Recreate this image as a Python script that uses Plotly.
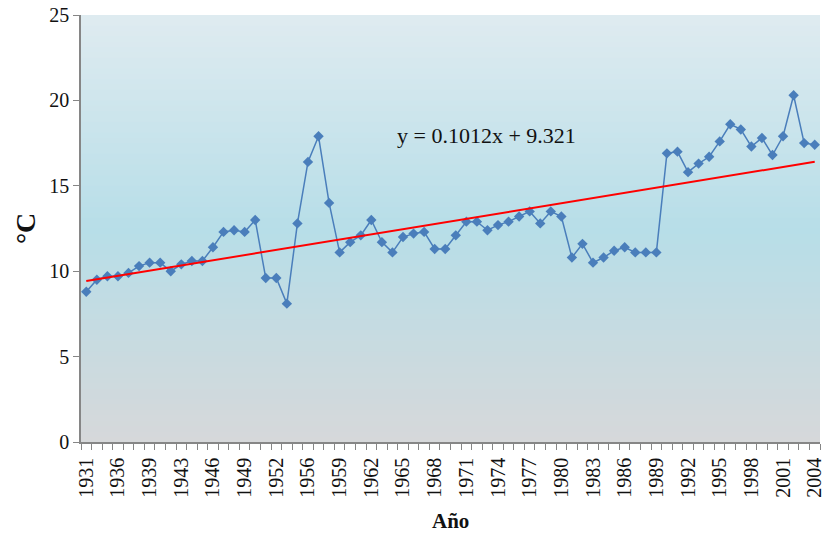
import plotly.graph_objects as go

# Annual mean temperature series (°C), one value per recorded year
years = [1931, 1932, 1934, 1936, 1937, 1938, 1939, 1940, 1941, 1943,
         1944, 1945, 1946, 1947, 1948, 1949, 1950, 1951, 1952, 1953,
         1954, 1956, 1957, 1958, 1959, 1960, 1961, 1962, 1963, 1964,
         1965, 1966, 1967, 1968, 1969, 1970, 1971, 1972, 1973, 1974,
         1975, 1976, 1977, 1978, 1979, 1980, 1981, 1982, 1983, 1984,
         1985, 1986, 1987, 1988, 1989, 1990, 1991, 1992, 1993, 1994,
         1995, 1996, 1997, 1998, 1999, 2000, 2001, 2002, 2003, 2004]

temps = [8.8, 9.5, 9.7, 9.7, 9.9, 10.3, 10.5, 10.5, 10.0, 10.4,
         10.6, 10.6, 11.4, 12.3, 12.4, 12.3, 13.0, 9.6, 9.6, 8.1,
         12.8, 16.4, 17.9, 14.0, 11.1, 11.7, 12.1, 13.0, 11.7, 11.1,
         12.0, 12.2, 12.3, 11.3, 11.3, 12.1, 12.9, 12.9, 12.4, 12.7,
         12.9, 13.2, 13.5, 12.8, 13.5, 13.2, 10.8, 11.6, 10.5, 10.8,
         11.2, 11.4, 11.1, 11.1, 11.1, 16.9, 17.0, 15.8, 16.3, 16.7,
         17.6, 18.6, 18.3, 17.3, 17.8, 16.8, 17.9, 20.3, 17.5, 17.4]

# Linear trend: y = slope * x + intercept, x = category position (1..n)
slope = 0.1012
intercept = 9.321
equation_label = "y = 0.1012x + 9.321"

y_ticks = [0, 5, 10, 15, 20, 25]
label_step = 3

idx = list(range(1, len(years) + 1))
trend = [slope * i + intercept for i in idx]
tick_positions = idx[::label_step]
tick_text = [str(y) for y in years[::label_step]]

SERIF = "Liberation Serif"
AXIS_GREY = "#868686"
BLUE = "#4a7ebb"
TEXT = "#111111"

fig = go.Figure()

# Plot-area background: vertical gradient built from thin bands
stops = [(0.0, (214, 216, 218)), (0.5, (183, 222, 232)), (1.0, (223, 235, 240))]


def grad_color(t):
    for (t0, c0), (t1, c1) in zip(stops[:-1], stops[1:]):
        if t0 <= t <= t1:
            f = (t - t0) / (t1 - t0)
            return "rgb({},{},{})".format(*[round(a + (b - a) * f) for a, b in zip(c0, c1)])
    return "rgb({},{},{})".format(*stops[-1][1])


n_bands = 80
for k in range(n_bands):
    y0 = k / n_bands
    y1 = (k + 1) / n_bands + 0.002
    fig.add_shape(type="rect", xref="x domain", yref="y domain",
                  x0=0, x1=1, y0=y0, y1=min(y1, 1),
                  fillcolor=grad_color((k + 0.5) / n_bands),
                  line=dict(width=0), layer="below")

fig.add_trace(go.Scatter(
    x=idx, y=temps, mode="lines+markers",
    customdata=years,
    hovertemplate="%{customdata}: %{y} °C<extra></extra>",
    line=dict(color=BLUE, width=1.5),
    marker=dict(symbol="diamond", size=8, color=BLUE),
    showlegend=False,
))

fig.add_trace(go.Scatter(
    x=[idx[0], idx[-1]], y=[trend[0], trend[-1]], mode="lines",
    line=dict(color="#ff0000", width=2),
    hoverinfo="skip", showlegend=False,
))

fig.add_annotation(x=38.9, y=17.95, xref="x", yref="y", text=equation_label,
                   xanchor="center", yanchor="middle", showarrow=False,
                   font=dict(family=SERIF, size=22, color=TEXT))

# Axis titles
fig.add_annotation(x=-0.075, y=0.5, xref="paper", yref="paper", text="<b>°C</b>",
                   textangle=-90, xanchor="center", yanchor="middle", showarrow=False,
                   font=dict(family=SERIF, size=28, color=TEXT))
fig.add_annotation(x=0.5, y=-0.185, xref="paper", yref="paper", text="<b>Año</b>",
                   xanchor="center", yanchor="middle", showarrow=False,
                   font=dict(family=SERIF, size=21, color=TEXT))

fig.update_layout(
    width=828, height=533,
    margin=dict(l=81, r=3, t=15, b=91),
    paper_bgcolor="white",
    plot_bgcolor="rgba(0,0,0,0)",
    font=dict(family=SERIF, color=TEXT),
    xaxis=dict(
        range=[0.5, len(idx) + 0.5],
        tickmode="array", tickvals=tick_positions, ticktext=tick_text,
        tickangle=-90, tickfont=dict(family=SERIF, size=20, color=TEXT),
        ticklabeloverflow="allow",
        ticks="outside", ticklen=6, tickcolor="rgba(0,0,0,0)",
        minor=dict(ticks="outside", ticklen=6, tickcolor=AXIS_GREY,
                   tickmode="linear", tick0=0.5, dtick=1),
        showline=True, linecolor=AXIS_GREY, linewidth=1.5,
        showgrid=False, zeroline=False,
    ),
    yaxis=dict(
        range=[0, 25], tickmode="array", tickvals=y_ticks,
        tickfont=dict(family=SERIF, size=20, color=TEXT),
        ticks="outside", ticklen=6, tickcolor=AXIS_GREY,
        showline=True, linecolor=AXIS_GREY, linewidth=1.5,
        showgrid=False, zeroline=False,
    ),
)

fig.write_html("out.html")
